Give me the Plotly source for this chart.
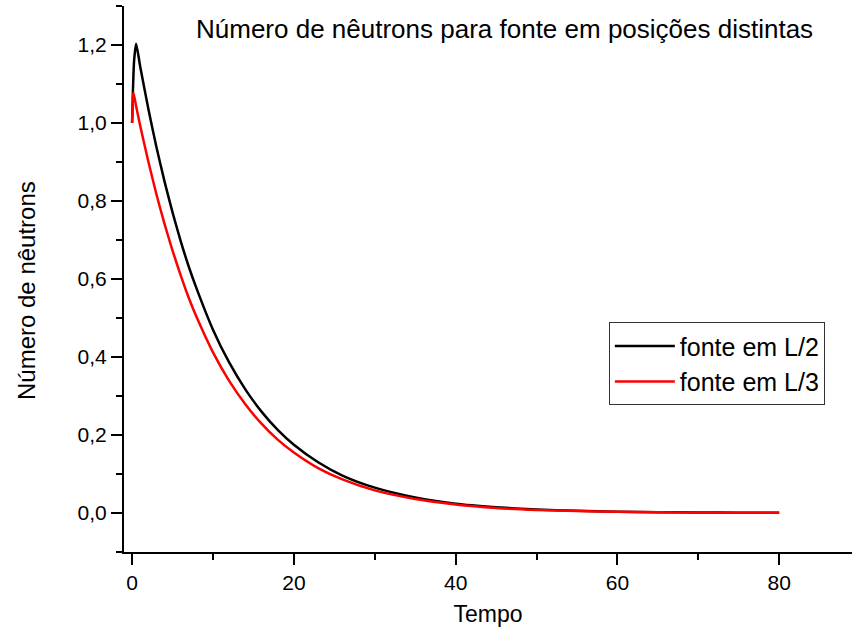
import plotly.graph_objects as go

# Time values
t_l2 = [0, 0.1, 0.25, 0.5, 1, 2, 3, 4, 5, 6, 7, 8, 10, 12, 14, 16, 18, 20,
        23, 26, 30, 35, 40, 45, 50, 55, 60, 65, 70, 75, 80]
n_l2 = [1.0, 1.08, 1.16, 1.203, 1.145, 1.037, 0.939, 0.851, 0.771, 0.698,
        0.632, 0.574, 0.470, 0.386, 0.317, 0.260, 0.213, 0.175, 0.130, 0.096,
        0.065, 0.040, 0.024, 0.015, 0.009, 0.0055, 0.0034, 0.002, 0.0013,
        0.0008, 0.0005]

t_l3 = [0, 0.08, 0.16, 0.5, 1, 2, 3, 4, 5, 6, 7, 8, 10, 12, 14, 16, 18, 20,
        23, 26, 30, 35, 40, 45, 50, 55, 60, 65, 70, 75, 80]
n_l3 = [1.0, 1.05, 1.078, 1.043, 0.993, 0.902, 0.818, 0.742, 0.673, 0.610,
        0.552, 0.501, 0.412, 0.339, 0.279, 0.229, 0.188, 0.155, 0.115, 0.086,
        0.058, 0.036, 0.022, 0.013, 0.008, 0.005, 0.003, 0.0019, 0.0012,
        0.0007, 0.0004]

series_names = ["fonte em L/2", "fonte em L/3"]
title_text = "Número de nêutrons para fonte em posições distintas"
x_title = "Tempo"
y_title = "Número de nêutrons"

fig = go.Figure()
fig.add_trace(go.Scatter(x=t_l2, y=n_l2, mode="lines", name=series_names[0],
                         line=dict(color="black", width=2.5, shape="spline", smoothing=0.6)))
fig.add_trace(go.Scatter(x=t_l3, y=n_l3, mode="lines", name=series_names[1],
                         line=dict(color="#ff0000", width=2.5, shape="spline", smoothing=0.6)))

axis_font = dict(family="Liberation Sans, Arial, sans-serif", size=21, color="black")

fig.update_layout(
    width=852, height=634,
    margin=dict(l=124, r=0, t=6, b=82),
    paper_bgcolor="white", plot_bgcolor="white",
    separators=", ",
    showlegend=True,
    legend=dict(
        x=0.666, y=0.421, xanchor="left", yanchor="top",
        bordercolor="#333333", borderwidth=1, bgcolor="white",
        font=dict(family="Liberation Sans Narrow, Arial Narrow, Liberation Sans, Arial", size=25, color="black"),
        tracegroupgap=0, itemwidth=60,
    ),
    xaxis=dict(
        range=[-1, 89], showgrid=False, zeroline=False,
        showline=True, linecolor="black", linewidth=2,
        ticks="outside", ticklen=11, tickwidth=2, tickcolor="black",
        tick0=0, dtick=20, tickfont=axis_font,
        minor=dict(ticks="outside", ticklen=6, tickwidth=2, tickcolor="black", dtick=10, tick0=0),
        title=dict(text=x_title, font=dict(family="Liberation Sans, Arial", size=23, color="black"), standoff=13),
    ),
    yaxis=dict(
        range=[-0.1, 1.3], showgrid=False, zeroline=False,
        showline=True, linecolor="black", linewidth=2,
        ticks="outside", ticklen=11, tickwidth=2, tickcolor="black",
        tick0=0, dtick=0.2, tickformat=".1f", tickfont=axis_font,
        minor=dict(ticks="outside", ticklen=6, tickwidth=2, tickcolor="black", dtick=0.1, tick0=0),
    ),
    annotations=[
        dict(
            text=title_text, xref="paper", yref="paper", x=0.522, y=0.958,
            xanchor="center", yanchor="middle", showarrow=False,
            font=dict(family="Liberation Sans, Arial", size=26, color="black"),
        ),
        dict(
            text=y_title, xref="paper", yref="paper", x=0, y=0.478,
            xshift=-98, xanchor="center", yanchor="middle", textangle=-90,
            showarrow=False,
            font=dict(family="Liberation Sans, Arial", size=24, color="black"),
        ),
    ],
)

fig.write_html("out.html")
